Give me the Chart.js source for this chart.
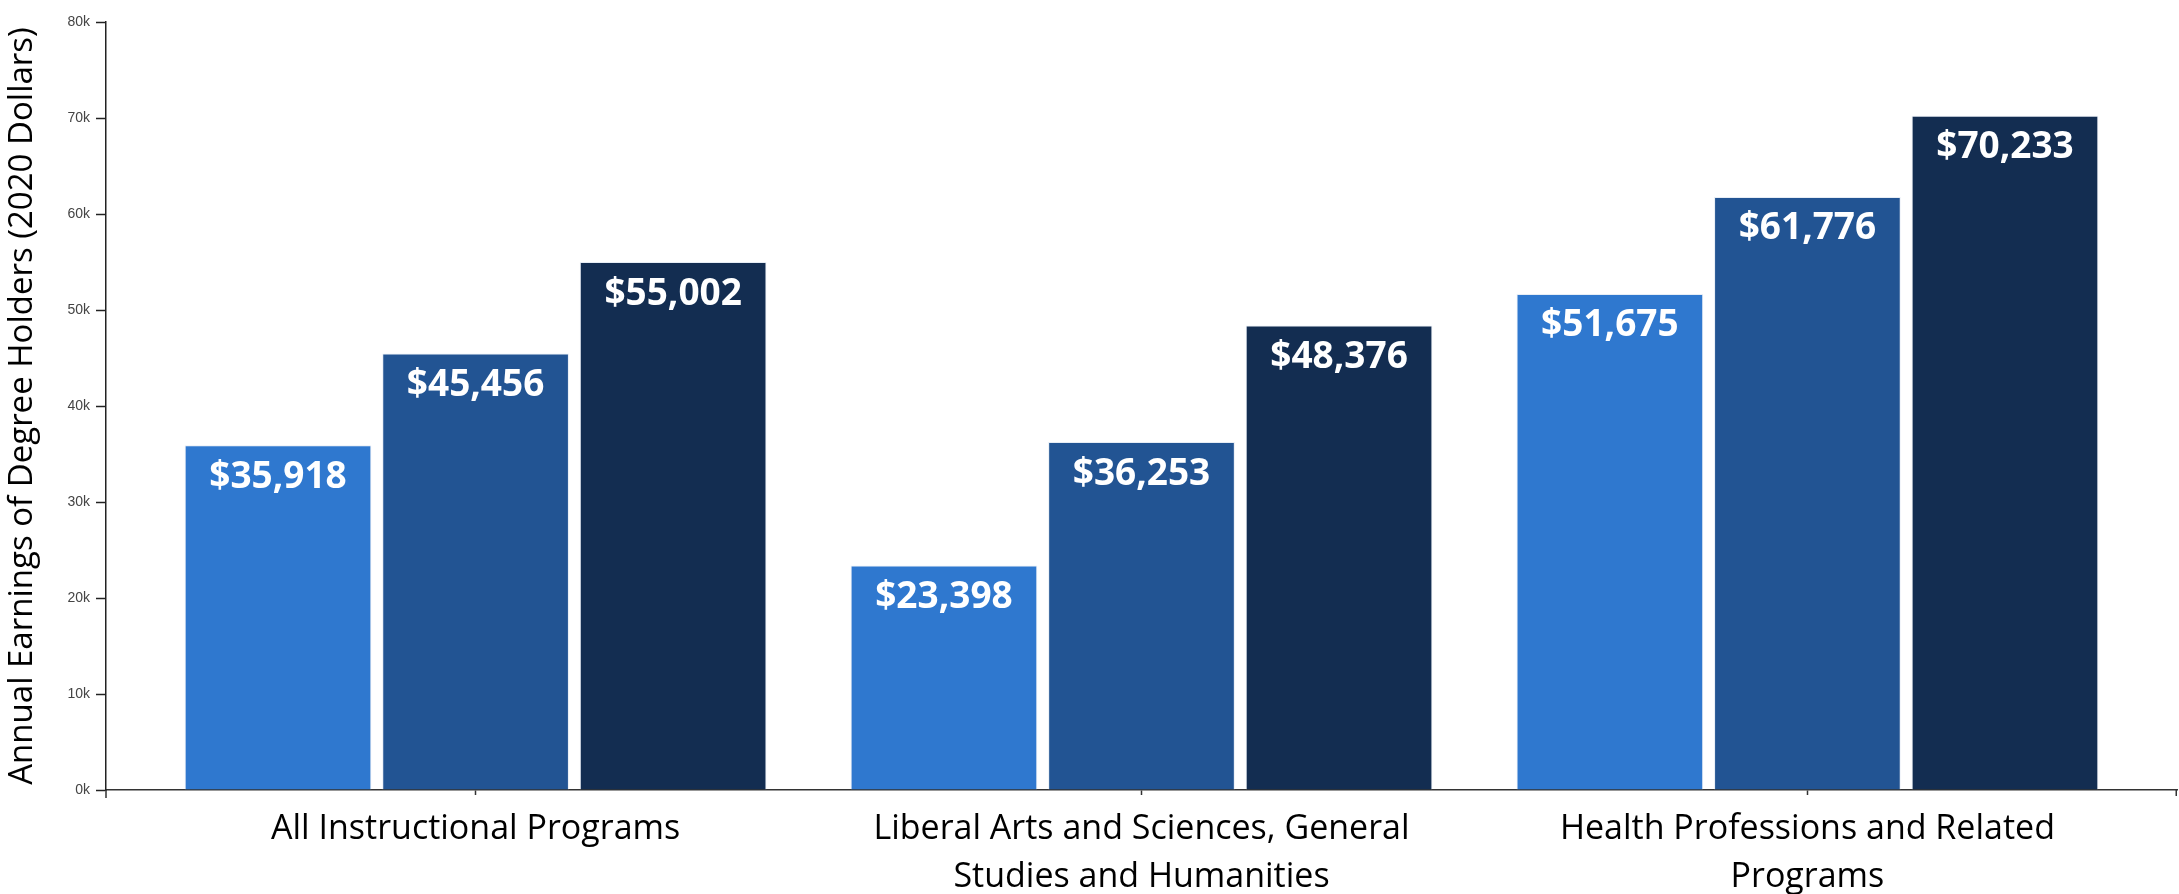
<!DOCTYPE html>
<html>
<head>
<meta charset="utf-8">
<script src="https://cdn.jsdelivr.net/npm/chart.js@4"></script>
<style>
  html, body { margin: 0; padding: 0; background: #fff; }
  #wrap { width: 2179px; height: 894px; position: relative; }
</style>
</head>
<body>
<div id="wrap"><canvas id="earnings"></canvas></div>
<script>
// Program categories (each entry is the list of label lines)
const categories = [
  ['All Instructional Programs'],
  ['Liberal Arts and Sciences, General', 'Studies and Humanities'],
  ['Health Professions and Related', 'Programs']
];

// Annual earnings, one array per bar shade
const seriesLight = [35918, 23398, 51675];
const seriesMid   = [45456, 36253, 61776];
const seriesDark  = [55002, 48376, 70233];

// Y axis ticks
const yTickValues = [0, 10000, 20000, 30000, 40000, 50000, 60000, 70000, 80000];
const yTickLabels = ['0k', '10k', '20k', '30k', '40k', '50k', '60k', '70k', '80k'];

const seriesColors = ['#2f78cf', '#225493', '#132d51'];
const labelFont = 'Open Sans';

const toPoints = arr => arr.map((v, i) => ({ x: i, y: v }));

// White dollar amounts drawn just inside the top of each bar
const valueLabels = {
  id: 'valueLabels',
  afterDatasetsDraw(chart) {
    const ctx = chart.ctx;
    ctx.save();
    ctx.font = 'bold 37px "Open Sans"';
    ctx.fillStyle = '#ffffff';
    ctx.textAlign = 'center';
    ctx.textBaseline = 'middle';
    chart.data.datasets.forEach((ds, di) => {
      chart.getDatasetMeta(di).data.forEach((bar, i) => {
        const v = ds.data[i].y;
        ctx.fillText('$' + v.toLocaleString('en-US'), bar.x, bar.y + 32);
      });
    });
    ctx.restore();
  }
};

// Short outer ticks at both ends of the x axis line
const axisEnds = {
  id: 'axisEnds',
  afterDraw(chart) {
    const { ctx, chartArea } = chart;
    ctx.save();
    ctx.strokeStyle = '#333';
    ctx.lineWidth = 1.5;
    ctx.beginPath();
    ctx.moveTo(chartArea.left, chartArea.bottom);
    ctx.lineTo(chartArea.left, chartArea.bottom + 8);
    ctx.moveTo(chartArea.right - 0.75, chartArea.bottom);
    ctx.lineTo(chartArea.right - 0.75, chartArea.bottom + 6);
    ctx.stroke();
    ctx.restore();
  }
};

new Chart(document.getElementById('earnings'), {
  type: 'bar',
  data: {
    datasets: [
      { data: toPoints(seriesLight), backgroundColor: seriesColors[0] },
      { data: toPoints(seriesMid),   backgroundColor: seriesColors[1] },
      { data: toPoints(seriesDark),  backgroundColor: seriesColors[2] }
    ]
  },
  options: {
    responsive: true,
    maintainAspectRatio: false,
    animation: false,
    events: [],
    categoryPercentage: 0.89,
    barPercentage: 0.945,
    borderWidth: 1,
    borderColor: 'rgba(215,225,238,0.6)',
    layout: { padding: { top: 22, right: 2, left: 0, bottom: 0 } },
    plugins: {
      legend: { display: false },
      tooltip: { enabled: false },
      title: { display: false }
    },
    scales: {
      x: {
        type: 'linear',
        min: -0.555,
        max: 2.555,
        offset: false,
        afterBuildTicks(scale) {
          scale.ticks = categories.map((_, i) => ({ value: i }));
        },
        afterFit(scale) { scale.height = 104; },
        ticks: {
          autoSkip: false,
          maxRotation: 0,
          padding: 11,
          color: '#000',
          font: { family: labelFont, size: 34, lineHeight: 1.4 },
          callback: v => categories[v]
        },
        grid: { drawOnChartArea: false, offset: false, tickLength: 5, color: '#333', tickWidth: 1.5 },
        border: { display: true, color: '#333', width: 1.5 }
      },
      y: {
        min: 0,
        max: 80000,
        afterBuildTicks(scale) {
          scale.ticks = yTickValues.map(v => ({ value: v }));
        },
        afterFit(scale) { scale.width = 106; },
        ticks: {
          padding: 6,
          color: '#444',
          font: { family: 'Liberation Sans', size: 14 },
          callback: (v, i) => yTickLabels[i]
        },
        grid: { drawOnChartArea: false, tickLength: 10, color: '#222', tickWidth: 1.5 },
        border: { display: true, color: '#222', width: 1.5 },
        title: {
          display: true,
          text: 'Annual Earnings of Degree Holders (2020 Dollars)',
          color: '#000',
          font: { family: labelFont, size: 33, lineHeight: 1.2 },
          padding: { top: 3, bottom: 0 }
        }
      }
    }
  },
  plugins: [valueLabels, axisEnds]
});
</script>
</body>
</html>
